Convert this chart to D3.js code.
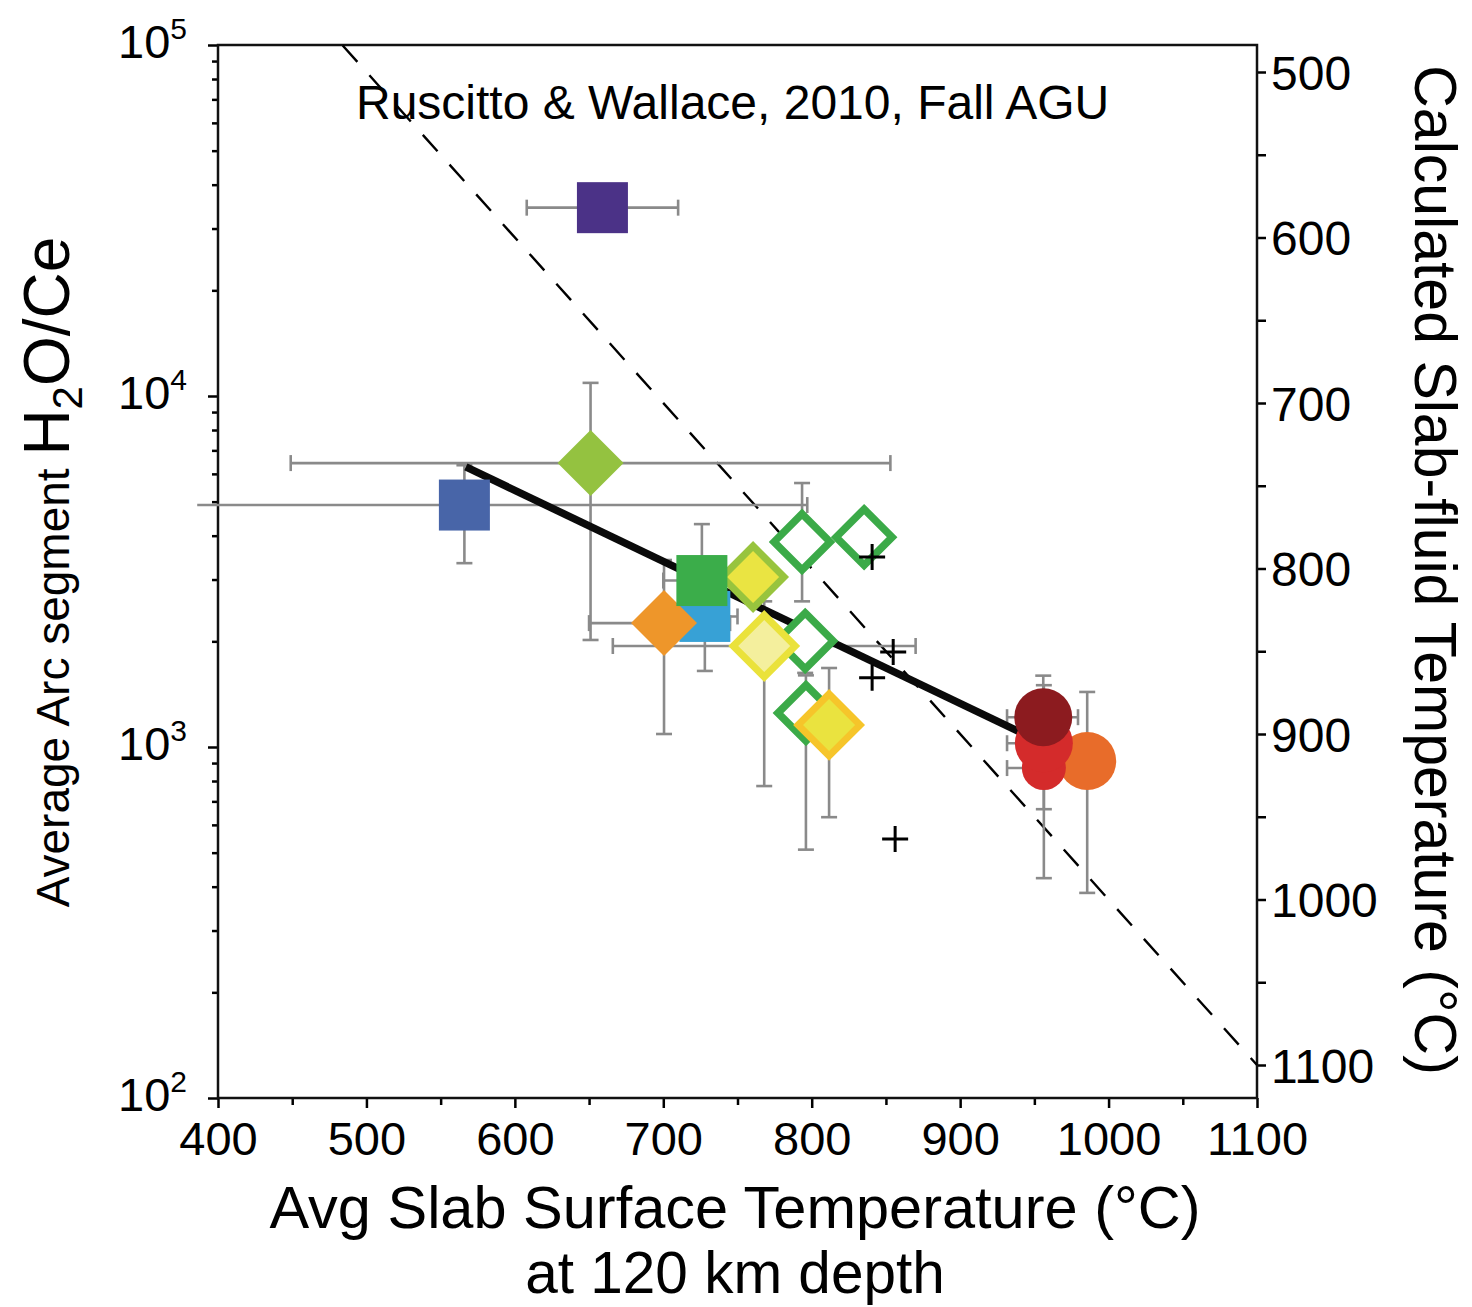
<!DOCTYPE html>
<html><head><meta charset="utf-8">
<script src="https://cdn.jsdelivr.net/npm/d3@7"></script>
<style>
body{margin:0;background:#fff}
text{font-family:"Liberation Sans",Arial,Helvetica,sans-serif;fill:#000}
</style>
</head><body>
<svg id="c" width="1472" height="1307"></svg>
<script>
// ---------- DATA ----------
const xTicks = [400, 500, 600, 700, 800, 900, 1000, 1100];
const yTickExps = [2, 3, 4, 5];
const rightTicks = [500, 600, 700, 800, 900, 1000, 1100];

// temperature (°C), H2O/Ce, error ranges (null = not shown)
const squares = [
  {id: "purple", t: 659, r: 34400, tlo: 608, thi: 710, rlo: null, rhi: null},
  {id: "blue",   t: 566, r: 4890,  tlo: 386, thi: 797, rlo: 3340, rhi: 6350},
  {id: "cyan",   t: 728, r: 2355,  tlo: 705, thi: 750, rlo: 1647, rhi: 2900},
  {id: "green",  t: 726, r: 2980,  tlo: 700, thi: 752, rlo: 2300, rhi: 4315}
];
const filledDiamonds = [
  {id: "lime",   t: 651, r: 6440, tlo: 449, thi: 853, rlo: 2018, rhi: 10900},
  {id: "orange", t: 700.5, r: 2254, tlo: 650, thi: 745, rlo: 1089, rhi: 3410},
  {id: "yellowLime", t: 760.5, r: 3050, tlo: null, thi: null, rlo: null, rhi: null},
  {id: "paleYellow", t: 768, r: 1940, tlo: 666, thi: 870, rlo: 774, rhi: 2600},
  {id: "gold",   t: 811.7, r: 1156, tlo: null, thi: null, rlo: 631, rhi: 1679}
];
const openDiamonds = [
  {id: "openA", t: 793.5, r: 3840, tlo: null, thi: null, rlo: 2600, rhi: 5650},
  {id: "openB", t: 835.3, r: 3960, tlo: null, thi: null, rlo: null, rhi: null},
  {id: "openC", t: 795.6, r: 2005, tlo: null, thi: null, rlo: 1626, rhi: 2300},
  {id: "openD", t: 796.1, r: 1250, tlo: null, thi: null, rlo: 510, rhi: 1600}
];
const circles = [
  {id: "orangeC",  t: 985.6, r: 912,  tlo: null, thi: null, rlo: 384, rhi: 1435},
  {id: "redSmall", t: 956.4, r: 871,  tlo: 931.6, thi: 960, rlo: 423, rhi: 1300},
  {id: "redBig",   t: 956.4, r: 1025, tlo: 931.6, thi: 960, rlo: 665, rhi: 1500},
  {id: "darkRed",  t: 956.0, r: 1216, tlo: 931.6, thi: 979.4, rlo: 900, rhi: 1597}
];
const crosses = [
  {t: 840.7, r: 3475}, {t: 854.9, r: 1866}, {t: 840.7, r: 1574}, {t: 856.2, r: 547}
];
const regression = [{t: 567, r: 6280}, {t: 955, r: 1030}];
const oneToOne = [484, 1100];   // slab-fluid T = slab surface T

// ---------- STYLES ----------
const style = {
  purple: {fill: "#4B3287"}, blue: {fill: "#4865A8"}, cyan: {fill: "#37A1D6"}, green: {fill: "#3BAD4A"},
  lime: {fill: "#94C240"}, orange: {fill: "#EE962A"},
  yellowLime: {fill: "#EAE442", stroke: "#98C43E"},
  paleYellow: {fill: "#F4EF9D", stroke: "#EAE23B"},
  gold: {fill: "#EAE33F", stroke: "#F6C52A"},
  orangeC: {fill: "#E86C2A", rad: 29}, redSmall: {fill: "#D42B2B", rad: 22},
  redBig: {fill: "#D42B2B", rad: 29}, darkRed: {fill: "#8C1B1F", rad: 29}
};
const errColor = "#8a8a8a";

// ---------- SCALES ----------
const W = {l: 218, r: 1257, t: 45, b: 1098};
const x = d3.scaleLinear().domain([400, 1100]).range([W.l, W.r]);
const y = d3.scaleLog().domain([100, 100000]).range([W.b, W.t]);
const yR = d3.scaleLinear().domain([500, 1100]).range([72, 1065]);

const svg = d3.select("#c");

// ---------- AXES ----------
const bottom = svg.append("g").attr("transform", `translate(0,${W.b})`);
bottom.call(d3.axisBottom(x).tickValues(d3.range(400, 1101, 50)).tickSize(10).tickFormat(""));
bottom.selectAll(".tick line").attr("y2", d => d % 100 === 0 ? 10 : 7).attr("stroke-width", 2.5);
bottom.select(".domain").remove();
bottom.selectAll(".tick").filter(d => xTicks.includes(d)).append("text")
  .attr("y", 57).attr("text-anchor", "middle").attr("font-size", 47).attr("fill", "#000")
  .text(d => d);

const yMinor = [];
for (let e = 2; e < 5; e++) for (let m = 1; m < 10; m++) yMinor.push(m * Math.pow(10, e));
yMinor.push(100000);
const left = svg.append("g").attr("transform", `translate(${W.l},0)`);
left.call(d3.axisLeft(y).tickValues(yMinor).tickSize(9).tickFormat(""));
left.select(".domain").remove();
left.selectAll(".tick line").attr("x2", d => yTickExps.some(e => Math.abs(Math.log10(d) - e) < 1e-9) ? -10 : -6)
  .attr("stroke-width", 2.5);
yTickExps.forEach(e => {
  const t = svg.append("text").attr("x", 187).attr("y", y(Math.pow(10, e)) + 13)
    .attr("text-anchor", "end").attr("font-size", 47);
  t.append("tspan").text("10");
  t.append("tspan").attr("font-size", 30).attr("dy", -19).text(e);
});

const right = svg.append("g").attr("transform", `translate(${W.r},0)`);
right.call(d3.axisRight(yR).tickValues(d3.range(500, 1101, 50)).tickSize(9).tickFormat(""));
right.select(".domain").remove();
right.selectAll(".tick line").attr("stroke-width", 2.5);
right.selectAll(".tick").filter(d => rightTicks.includes(d)).append("text")
  .attr("x", 14).attr("dy", 17).attr("text-anchor", "start").attr("font-size", 48).attr("fill", "#000")
  .text(d => d);

// frame
svg.append("rect").attr("x", W.l).attr("y", W.t).attr("width", W.r - W.l).attr("height", W.b - W.t)
  .attr("fill", "none").attr("stroke", "#111").attr("stroke-width", 2.5);

// ---------- LABELS ----------
svg.append("text").attr("x", 356).attr("y", 119).attr("font-size", 48)
  .text("Ruscitto & Wallace, 2010, Fall AGU");
svg.append("text").attr("x", 735).attr("y", 1228).attr("text-anchor", "middle").attr("font-size", 59.5)
  .text("Avg Slab Surface Temperature (°C)");
svg.append("text").attr("x", 735).attr("y", 1293).attr("text-anchor", "middle").attr("font-size", 58.5)
  .text("at 120 km depth");
const yl = svg.append("text").attr("transform", "translate(69,572) rotate(-90)").attr("text-anchor", "middle");
yl.append("tspan").attr("font-size", 46).text("Average Arc segment ");
yl.append("tspan").attr("font-size", 64).text("H");
yl.append("tspan").attr("font-size", 42).attr("dy", 13).text("2");
yl.append("tspan").attr("font-size", 64).attr("dy", -13).text("O/Ce");
svg.append("text").attr("transform", "translate(1415,570) rotate(90)").attr("text-anchor", "middle")
  .attr("font-size", 59).text("Calculated Slab-fluid Temperature (°C)");

// ---------- PLOT CONTENT ----------
const plot = svg.append("g");

// 1:1 dashed line
plot.append("path")
  .attr("d", d3.line().x(d => x(d)).y(d => yR(d))(oneToOne))
  .attr("stroke", "#000").attr("stroke-width", 2.4).attr("stroke-dasharray", "22,18").attr("fill", "none");

// error bars
const allPts = [...squares, ...filledDiamonds, ...openDiamonds, ...circles];
const eb = plot.append("g").attr("stroke", errColor).attr("stroke-width", 2.6).attr("fill", "none");
const cap = 8;
allPts.forEach(p => {
  const cx = x(p.t), cy = y(p.r);
  if (p.tlo != null) {
    eb.append("line").attr("x1", x(p.tlo)).attr("x2", x(p.thi)).attr("y1", cy).attr("y2", cy);
    [p.tlo, p.thi].forEach(v => {
      if (v >= 400 && v <= 1100)
        eb.append("line").attr("x1", x(v)).attr("x2", x(v)).attr("y1", cy - cap).attr("y2", cy + cap);
    });
  }
  if (p.rlo != null) {
    eb.append("line").attr("x1", cx).attr("x2", cx).attr("y1", y(p.rlo)).attr("y2", y(p.rhi));
    [p.rlo, p.rhi].forEach(v => {
      eb.append("line").attr("x1", cx - cap).attr("x2", cx + cap).attr("y1", y(v)).attr("y2", y(v));
    });
  }
});

// regression line
plot.append("path")
  .attr("d", d3.line().x(d => x(d.t)).y(d => y(d.r))(regression))
  .attr("stroke", "#0a0a0a").attr("stroke-width", 7.5).attr("fill", "none");

// markers
const sq = 51;
function drawSquare(p) {
  plot.append("rect").attr("x", x(p.t) - sq / 2).attr("y", y(p.r) - sq / 2)
    .attr("width", sq).attr("height", sq).attr("fill", style[p.id].fill);
}
function diamondPath(cx, cy, h) {
  return `M${cx},${cy - h}L${cx + h},${cy}L${cx},${cy + h}L${cx - h},${cy}Z`;
}
function drawFilledDiamond(p) {
  const s = style[p.id];
  plot.append("path").attr("d", diamondPath(x(p.t), y(p.r), s.stroke ? 31 : 33))
    .attr("fill", s.fill).attr("stroke", s.stroke || "none").attr("stroke-width", 7)
    .attr("stroke-linejoin", "miter");
}
function drawOpenDiamond(p) {
  plot.append("path").attr("d", diamondPath(x(p.t), y(p.r), 28))
    .attr("fill", "#fff").attr("stroke", "#3BAA48").attr("stroke-width", 7.5);
}
function drawCircle(p) {
  plot.append("circle").attr("cx", x(p.t)).attr("cy", y(p.r)).attr("r", style[p.id].rad)
    .attr("fill", style[p.id].fill);
}
const byId = id => allPts.find(p => p.id === id);

drawSquare(byId("purple"));
drawSquare(byId("blue"));
drawFilledDiamond(byId("lime"));
openDiamonds.forEach(drawOpenDiamond);
drawSquare(byId("cyan"));
drawFilledDiamond(byId("orange"));
drawFilledDiamond(byId("yellowLime"));
drawSquare(byId("green"));
drawFilledDiamond(byId("paleYellow"));
drawFilledDiamond(byId("gold"));

// crosses
crosses.forEach(c => {
  const cx = x(c.t), cy = y(c.r), h = 13;
  plot.append("path").attr("d", `M${cx - h},${cy}H${cx + h}M${cx},${cy - h}V${cy + h}`)
    .attr("stroke", "#000").attr("stroke-width", 3);
});

circles.forEach(drawCircle);
</script>
</body></html>
